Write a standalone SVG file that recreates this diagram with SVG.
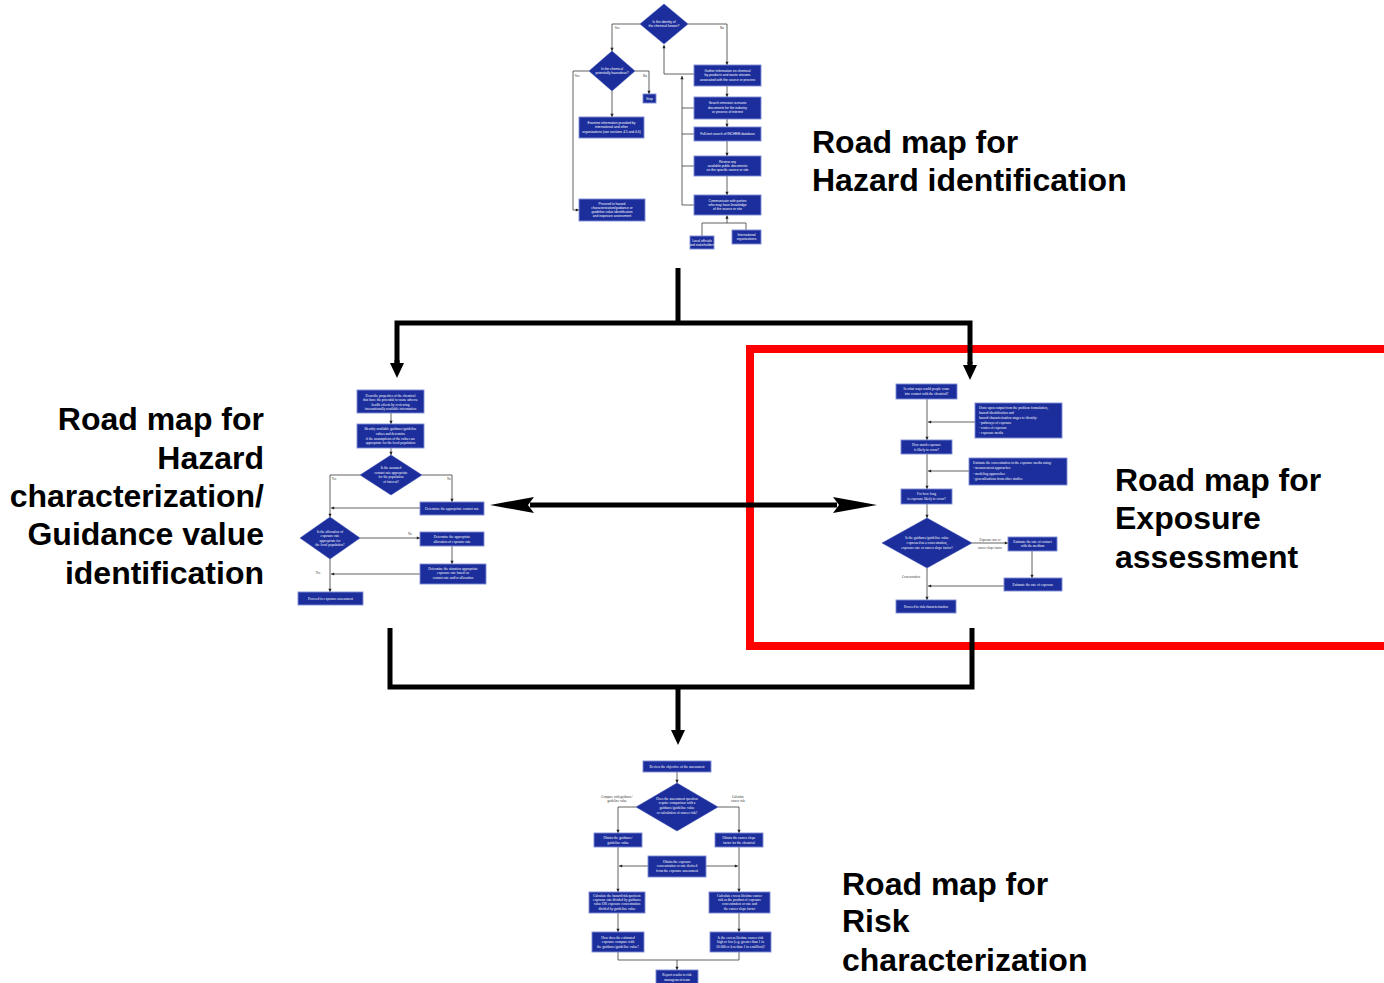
<svg xmlns="http://www.w3.org/2000/svg" width="1384" height="983" viewBox="0 0 1384 983">
<style>
.bx{fill:#1B2E9C;stroke:#7F8CD6;stroke-width:0.9}
.dm{fill:#1B2E9C;stroke:#3A4DB0;stroke-width:0.5}
.ts{font-family:"Liberation Sans",Arial,sans-serif;font-size:3.3px;fill:#fff;text-anchor:middle}
.tr{font-family:"Liberation Serif","Times New Roman",serif;font-size:3.5px;fill:#fff;text-anchor:middle}
.tl{text-anchor:start}
.lb{font-family:"Liberation Sans",Arial,sans-serif;font-size:3px;fill:#333;text-anchor:middle}
.lbs{font-family:"Liberation Serif","Times New Roman",serif;font-size:3.2px;fill:#333;text-anchor:middle}
.cn{fill:none;stroke:#3a3a3a;stroke-width:0.8}
.big{fill:none;stroke:#000;stroke-width:5;stroke-linejoin:miter}
.title{font-family:"Liberation Sans",Arial,sans-serif;font-size:32px;font-weight:bold;fill:#000}
</style>
<defs>
<marker id="a" markerUnits="userSpaceOnUse" markerWidth="5" markerHeight="5" refX="3.2" refY="1.6" orient="auto" overflow="visible"><path d="M0,0 L3.2,1.6 L0,3.2 z" fill="#222"/></marker>
<marker id="bv" markerUnits="userSpaceOnUse" markerWidth="20" markerHeight="20" refX="0" refY="7" orient="auto" overflow="visible"><path d="M-1,0 L14,7 L-1,14 z" fill="#000"/></marker>
<marker id="bh" markerUnits="userSpaceOnUse" markerWidth="44" markerHeight="20" refX="0" refY="8" orient="auto-start-reverse" overflow="visible"><path d="M-4,0 L40,8 L-4,16 L2,8 z" fill="#000"/></marker>
</defs>

<rect x="750" y="349" width="700" height="297" fill="none" stroke="#FF0000" stroke-width="8"/>

<g id="connectors">
<path class="cn" d="M640,24 H612 V51" marker-end="url(#a)"/>
<path class="cn" d="M688,24 H727 V65" marker-end="url(#a)"/>
<path class="cn" d="M589,71 H573 V210 H579" marker-end="url(#a)"/>
<path class="cn" d="M635,71 H649 V94" marker-end="url(#a)"/>
<path class="cn" d="M612,91 V117" marker-end="url(#a)"/>
<path class="cn" d="M727,86 V97" marker-end="url(#a)"/>
<path class="cn" d="M727,119 V127" marker-end="url(#a)"/>
<path class="cn" d="M727,141 V156" marker-end="url(#a)"/>
<path class="cn" d="M727,176 V195" marker-end="url(#a)"/>
<path class="cn" d="M694,74 H664 V45" marker-end="url(#a)"/>
<path class="cn" d="M682,205 V76" marker-end="url(#a)"/>
<path class="cn" d="M694,108 H682 M694,134 H682 M694,166 H682 M694,205 H682"/>
<path class="cn" d="M702,236 V223 H746 V230"/>
<path class="cn" d="M727,223 V215.5" marker-end="url(#a)"/>
<path class="cn" d="M391,413 V424" marker-end="url(#a)"/>
<path class="cn" d="M391,448 V455" marker-end="url(#a)"/>
<path class="cn" d="M360,475 H330 V517" marker-end="url(#a)"/>
<path class="cn" d="M422,475 H452 V502" marker-end="url(#a)"/>
<path class="cn" d="M420,508 H331" marker-end="url(#a)"/>
<path class="cn" d="M360,538 H420" marker-end="url(#a)"/>
<path class="cn" d="M452,546 V564" marker-end="url(#a)"/>
<path class="cn" d="M420,574 H331" marker-end="url(#a)"/>
<path class="cn" d="M330,559 V592" marker-end="url(#a)"/>
<path class="cn" d="M927,399 V440" marker-end="url(#a)"/>
<path class="cn" d="M975,422 H928" marker-end="url(#a)"/>
<path class="cn" d="M927,454 V489" marker-end="url(#a)"/>
<path class="cn" d="M969,471 H928" marker-end="url(#a)"/>
<path class="cn" d="M927,504 V518" marker-end="url(#a)"/>
<path class="cn" d="M972,543 H1008" marker-end="url(#a)"/>
<path class="cn" d="M1032,551 V578" marker-end="url(#a)"/>
<path class="cn" d="M1004,586 H928" marker-end="url(#a)"/>
<path class="cn" d="M927,568 V600" marker-end="url(#a)"/>
<path class="cn" d="M677,772 V783" marker-end="url(#a)"/>
<path class="cn" d="M636,807 H618 V833" marker-end="url(#a)"/>
<path class="cn" d="M718,807 H739 V833" marker-end="url(#a)"/>
<path class="cn" d="M618,847 V892" marker-end="url(#a)"/>
<path class="cn" d="M739,847 V892" marker-end="url(#a)"/>
<path class="cn" d="M648,866 H619" marker-end="url(#a)"/>
<path class="cn" d="M706,866 H738" marker-end="url(#a)"/>
<path class="cn" d="M618,913 V932" marker-end="url(#a)"/>
<path class="cn" d="M739,913 V932" marker-end="url(#a)"/>
<path class="cn" d="M618,952 V960 H739 V952"/>
<path class="cn" d="M677,960 V970" marker-end="url(#a)"/>
<path class="big" d="M678,268 V323"/>
<path class="big" d="M397,364 V323 H970 V364"/>
<path class="big" d="M397,360 V364" marker-end="url(#bv)"/>
<path class="big" d="M970,362 V366" marker-end="url(#bv)"/>
<path class="big" d="M390,628 V687 H972 V628"/>
<path class="big" d="M678,687 V731" marker-end="url(#bv)"/>
<path class="big" d="M530,505 H837" marker-start="url(#bh)" marker-end="url(#bh)"/>
</g>

<g id="t-d1"><polygon class="dm" points="664,4 688,24 664,44 640,24"/>
<text class="ts"><tspan x="664" y="22.5">Is the identity of</tspan><tspan x="664" y="26.5">the chemical known?</tspan></text></g>
<g id="t-d2"><polygon class="dm" points="612,51 635,71 612,91 589,71"/>
<text class="ts"><tspan x="612" y="69.5">Is the chemical</tspan><tspan x="612" y="73.5">potentially hazardous?</tspan></text></g>
<g id="t-labels">
<text class="lb" x="617" y="29">Yes</text><text class="lb" x="722" y="29">No</text>
<text class="lb" x="577" y="77">Yes</text><text class="lb" x="645" y="77">No</text></g>
<g id="t-stop"><rect class="bx" x="643" y="94" width="13" height="9"/><text class="ts" x="649.5" y="99.5">Stop</text></g>
<g id="t-examine"><rect class="bx" x="579" y="117" width="65" height="21"/>
<text class="ts"><tspan x="611.5" y="123.5">Examine information provided by</tspan><tspan x="611.5" y="128">international and other</tspan><tspan x="611.5" y="132.5">organizations (see sections 4.5 and 4.6)</tspan></text></g>
<g id="t-proceed"><rect class="bx" x="579" y="199" width="66" height="22"/>
<text class="ts"><tspan x="612" y="204.5">Proceed to hazard</tspan><tspan x="612" y="208.7">characterization/guidance or</tspan><tspan x="612" y="212.9">guideline value identification</tspan><tspan x="612" y="217.1">and exposure assessment</tspan></text></g>
<g id="t-gather"><rect class="bx" x="694" y="65" width="67" height="21"/>
<text class="ts"><tspan x="727.5" y="71.5">Gather information on chemical</tspan><tspan x="727.5" y="76">by-products and waste streams</tspan><tspan x="727.5" y="80.5">associated with the source or process</tspan></text></g>
<g id="t-search"><rect class="bx" x="694" y="97" width="67" height="22"/>
<text class="ts"><tspan x="727.5" y="104">Search emission scenario</tspan><tspan x="727.5" y="108.5">documents for the industry</tspan><tspan x="727.5" y="113">or process of interest</tspan></text></g>
<g id="t-inchem"><rect class="bx" x="694" y="127" width="67" height="14"/>
<text class="ts" x="727.5" y="135">Full-text search of INCHEM database</text></g>
<g id="t-review"><rect class="bx" x="694" y="156" width="67" height="20"/>
<text class="ts"><tspan x="727.5" y="162.5">Review any</tspan><tspan x="727.5" y="166.7">available public documents</tspan><tspan x="727.5" y="170.9">on the specific source or site</tspan></text></g>
<g id="t-communicate"><rect class="bx" x="694" y="195" width="67" height="20"/>
<text class="ts"><tspan x="727.5" y="201.5">Communicate with parties</tspan><tspan x="727.5" y="205.7">who may have knowledge</tspan><tspan x="727.5" y="209.9">of the source or site</tspan></text></g>
<g id="t-local"><rect class="bx" x="690" y="236" width="24" height="13"/>
<text class="ts"><tspan x="702" y="241.5">Local officials</tspan><tspan x="702" y="245.5">and stakeholders</tspan></text></g>
<g id="t-intl"><rect class="bx" x="732" y="230" width="29" height="14"/>
<text class="ts"><tspan x="746.5" y="236">International</tspan><tspan x="746.5" y="240">organizations</tspan></text></g>

<g id="l-describe"><rect class="bx" x="357" y="390" width="67" height="23"/>
<text class="tr"><tspan x="390.5" y="396.5">Describe properties of the chemical</tspan><tspan x="390.5" y="401">that have the potential to cause adverse</tspan><tspan x="390.5" y="405.5">health effects by reviewing</tspan><tspan x="390.5" y="410">internationally available information</tspan></text></g>
<g id="l-identify"><rect class="bx" x="357" y="424" width="67" height="24"/>
<text class="tr"><tspan x="390.5" y="430">Identify available guidance/guideline</tspan><tspan x="390.5" y="434.5">values and determine</tspan><tspan x="390.5" y="439.5">if the assumptions of the values are</tspan><tspan x="390.5" y="444">appropriate for the local population</tspan></text></g>
<g id="l-d1"><polygon class="dm" points="391,455 422,475 391,495 360,475"/>
<text class="tr"><tspan x="391" y="469">Is the assumed</tspan><tspan x="391" y="473.7">contact rate appropriate</tspan><tspan x="391" y="478.4">for the population</tspan><tspan x="391" y="483.1">of interest?</tspan></text></g>
<g id="l-labels"><text class="lbs" x="334" y="480">Yes</text><text class="lbs" x="449" y="480">No</text>
<text class="lbs" x="410" y="535">No</text><text class="lbs" x="318" y="574">Yes</text></g>
<g id="l-contact"><rect class="bx" x="420" y="502" width="64" height="13"/>
<text class="tr" x="452" y="509.7">Determine the appropriate contact rate</text></g>
<g id="l-d2"><polygon class="dm" points="330,517 360,538 330,559 300,538"/>
<text class="tr"><tspan x="330" y="532.5">Is the allocation of</tspan><tspan x="330" y="537">exposure rate</tspan><tspan x="330" y="541.5">appropriate for</tspan><tspan x="330" y="546">the local population?</tspan></text></g>
<g id="l-alloc"><rect class="bx" x="420" y="532" width="64" height="14"/>
<text class="tr"><tspan x="452" y="538.3">Determine the appropriate</tspan><tspan x="452" y="542.8">allocation of exposure rate</tspan></text></g>
<g id="l-situation"><rect class="bx" x="420" y="564" width="66" height="20"/>
<text class="tr"><tspan x="453" y="569.5">Determine the situation appropriate</tspan><tspan x="453" y="574">exposure rate based on</tspan><tspan x="453" y="578.5">contact rate and/or allocation</tspan></text></g>
<g id="l-proceed"><rect class="bx" x="298" y="592" width="65" height="13"/>
<text class="tr" x="330.5" y="599.7">Proceed to exposure assessment</text></g>

<g id="r-ways"><rect class="bx" x="896" y="384" width="61" height="15"/>
<text class="tr"><tspan x="926.5" y="390">In what ways could people come</tspan><tspan x="926.5" y="395">into contact with the chemical?</tspan></text></g>
<g id="r-draw"><rect class="bx" x="975" y="403" width="87" height="35"/>
<text class="tr tl"><tspan x="979" y="408.8">Draw upon output from the problem formulation,</tspan><tspan x="979" y="413.8">hazard identification and</tspan><tspan x="979" y="418.8">hazard characterization stages to identify:</tspan><tspan x="979" y="423.8">- pathways of exposure</tspan><tspan x="979" y="428.8">- routes of exposure</tspan><tspan x="979" y="433.8">- exposure media</tspan></text></g>
<g id="r-howmuch"><rect class="bx" x="901" y="440" width="51" height="14"/>
<text class="tr"><tspan x="926.5" y="445.8">How much exposure</tspan><tspan x="926.5" y="450.6">is likely to occur?</tspan></text></g>
<g id="r-estimate"><rect class="bx" x="969" y="458" width="98" height="27"/>
<text class="tr tl"><tspan x="973" y="463.8">Estimate the concentration in the exposure media using:</tspan><tspan x="973" y="469.3">- measurement approaches</tspan><tspan x="973" y="474.8">- modeling approaches</tspan><tspan x="973" y="480.3">- generalisations from other studies</tspan></text></g>
<g id="r-howlong"><rect class="bx" x="901" y="489" width="51" height="15"/>
<text class="tr"><tspan x="926.5" y="495">For how long</tspan><tspan x="926.5" y="500">is exposure likely to occur?</tspan></text></g>
<g id="r-d"><polygon class="dm" points="927,518 972,543 927,568 882,543"/>
<text class="tr"><tspan x="927" y="538.5">Is the guidance/guideline value</tspan><tspan x="927" y="543.5">expressed as a concentration,</tspan><tspan x="927" y="548.5">exposure rate or cancer slope factor?</tspan></text></g>
<g id="r-labels"><text class="lbs" x="990" y="540.5">Exposure rate or</text><text class="lbs" x="990" y="549">cancer slope factor</text>
<text class="lbs" x="911" y="577.5">Concentration</text></g>
<g id="r-contact"><rect class="bx" x="1008" y="537" width="49" height="14"/>
<text class="tr"><tspan x="1032.5" y="542.6">Estimate the rate of contact</tspan><tspan x="1032.5" y="547.3">with the medium</tspan></text></g>
<g id="r-rate"><rect class="bx" x="1004" y="578" width="58" height="13"/>
<text class="tr" x="1033" y="585.7">Estimate the rate of exposure</text></g>
<g id="r-proceed"><rect class="bx" x="896" y="600" width="60" height="13"/>
<text class="tr" x="926" y="607.7">Proceed to risk characterization</text></g>

<g id="b-review"><rect class="bx" x="643" y="761" width="68" height="11"/>
<text class="tr" x="677" y="767.6">Review the objective of the assessment</text></g>
<g id="b-d"><polygon class="dm" points="677,783 718,807 677,831 636,807"/>
<text class="tr"><tspan x="677" y="799.5">Does the assessment question</tspan><tspan x="677" y="804.3">require comparison with a</tspan><tspan x="677" y="809.1">guidance/guideline value</tspan><tspan x="677" y="813.9">or calculation of cancer risk?</tspan></text></g>
<g id="b-labels"><text class="lbs"><tspan x="617" y="798">Compare with guidance/</tspan><tspan x="617" y="802.3">guideline value</tspan></text>
<text class="lbs"><tspan x="738" y="798">Calculate</tspan><tspan x="738" y="802.3">cancer risk</tspan></text></g>
<g id="b-guid"><rect class="bx" x="594" y="833" width="48" height="14"/>
<text class="tr"><tspan x="618" y="839">Obtain the guidance/</tspan><tspan x="618" y="843.5">guideline value</tspan></text></g>
<g id="b-slope"><rect class="bx" x="715" y="833" width="48" height="14"/>
<text class="tr"><tspan x="739" y="839">Obtain the cancer slope</tspan><tspan x="739" y="843.5">factor for the chemical</tspan></text></g>
<g id="b-expo"><rect class="bx" x="648" y="856" width="58" height="21"/>
<text class="tr"><tspan x="677" y="862.5">Obtain the exposure</tspan><tspan x="677" y="867.3">concentration or rate derived</tspan><tspan x="677" y="872.1">from the exposure assessment</tspan></text></g>
<g id="b-hq"><rect class="bx" x="589" y="892" width="56" height="21"/>
<text class="tr"><tspan x="617" y="896.5">Calculate the hazard/risk quotient:</tspan><tspan x="617" y="900.9">exposure rate divided by guidance</tspan><tspan x="617" y="905.3">value OR exposure concentration</tspan><tspan x="617" y="909.7">divided by guideline value</tspan></text></g>
<g id="b-elcr"><rect class="bx" x="709" y="892" width="61" height="21"/>
<text class="tr"><tspan x="739.5" y="896.5">Calculate excess lifetime cancer</tspan><tspan x="739.5" y="900.9">risk as the product of exposure</tspan><tspan x="739.5" y="905.3">concentration or rate and</tspan><tspan x="739.5" y="909.7">the cancer slope factor</tspan></text></g>
<g id="b-compare"><rect class="bx" x="592" y="932" width="52" height="20"/>
<text class="tr"><tspan x="618" y="938.5">How does the estimated</tspan><tspan x="618" y="943.3">exposure compare with</tspan><tspan x="618" y="948.1">the guidance/guideline value?</tspan></text></g>
<g id="b-high"><rect class="bx" x="710" y="932" width="61" height="20"/>
<text class="tr"><tspan x="740.5" y="938.5">Is the excess lifetime cancer risk</tspan><tspan x="740.5" y="943.3">high or low (e.g. greater than 1 in</tspan><tspan x="740.5" y="948.1">10 000 or less than 1 in a million)?</tspan></text></g>
<g id="b-report"><rect class="bx" x="656" y="970" width="42" height="14"/>
<text class="tr"><tspan x="677" y="976">Report results to risk</tspan><tspan x="677" y="980.5">management team</tspan></text></g>

<g id="title-hazard-id"><text class="title"><tspan x="812" y="153">Road map for</tspan><tspan x="812" y="191">Hazard identification</tspan></text></g>
<g id="title-hazard-char"><text class="title" text-anchor="end"><tspan x="264" y="430">Road map for</tspan><tspan x="264" y="469">Hazard</tspan><tspan x="264" y="507">characterization/</tspan><tspan x="264" y="545">Guidance value</tspan><tspan x="264" y="584">identification</tspan></text></g>
<g id="title-exposure"><text class="title"><tspan x="1115" y="491">Road map for</tspan><tspan x="1115" y="529">Exposure</tspan><tspan x="1115" y="568">assessment</tspan></text></g>
<g id="title-risk"><text class="title"><tspan x="842" y="895">Road map for</tspan><tspan x="842" y="932">Risk</tspan><tspan x="842" y="971">characterization</tspan></text></g>
</svg>
